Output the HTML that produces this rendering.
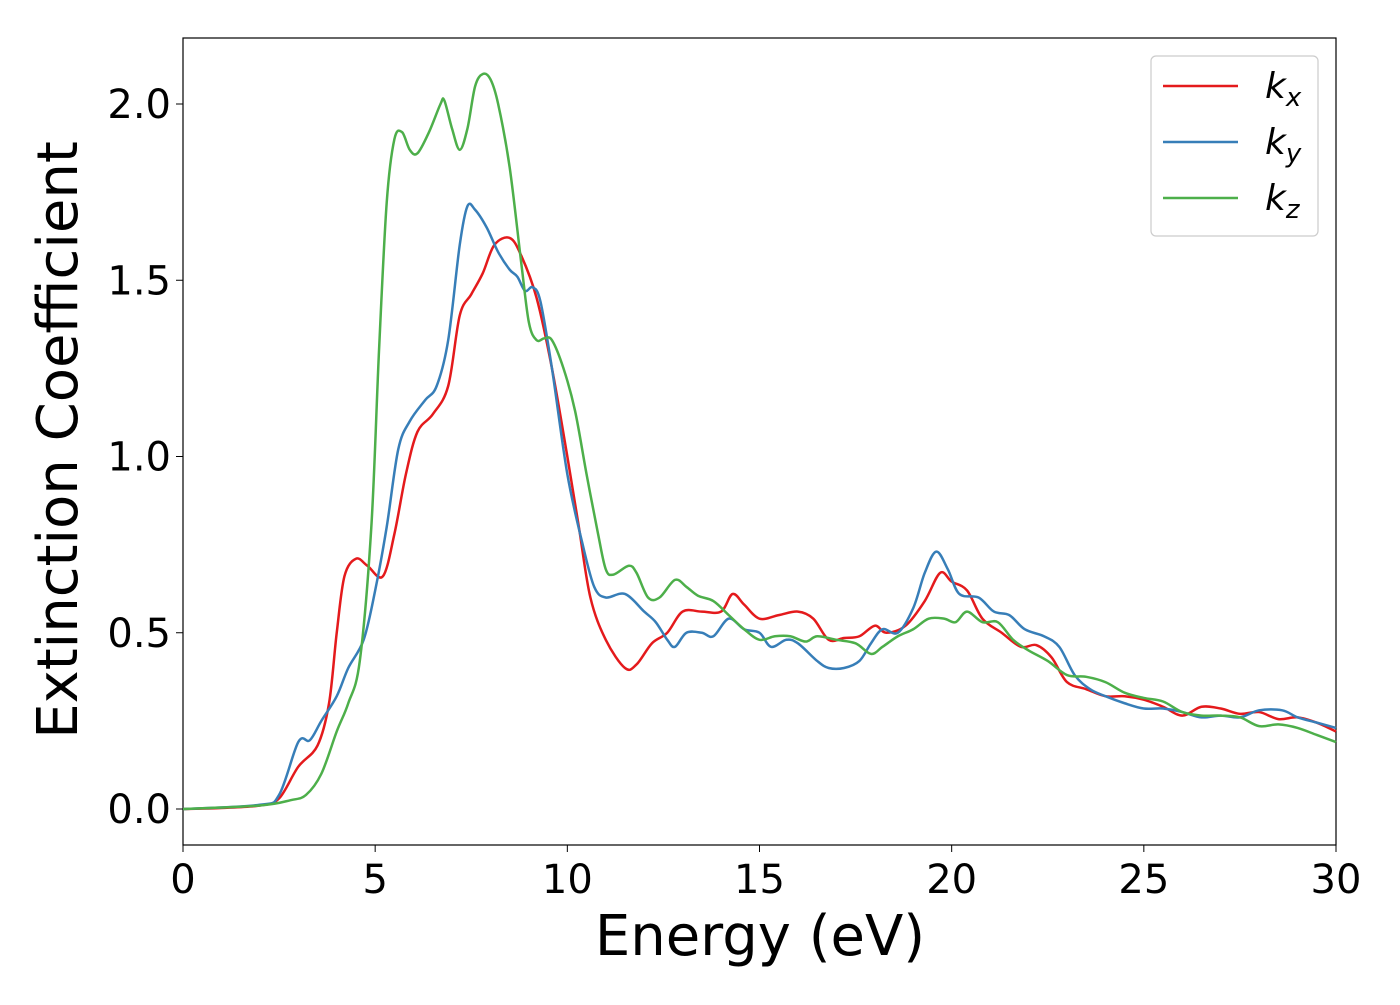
<!DOCTYPE html>
<html><head><meta charset="utf-8"><style>
body{margin:0;background:#fff}
svg text{font-family:"DejaVu Sans","Liberation Sans",sans-serif;fill:#000}
</style></head><body>
<svg id="chart" width="1400" height="1000" xmlns="http://www.w3.org/2000/svg">
<rect x="183" y="38" width="1153" height="807" fill="#fff" stroke="#000" stroke-width="1.2"/>
<g id="ticks"></g>
<g id="series"></g>
<text x="760" y="955" font-size="56" text-anchor="middle">Energy (eV)</text>
<text transform="translate(77,440) rotate(-90)" font-size="56" text-anchor="middle">Extinction Coefficient</text>
<g>
<rect x="1151" y="56" width="167" height="180" rx="5" fill="#fff" stroke="#ccc" stroke-width="1.2"/>
<line x1="1163" y1="86" x2="1238" y2="86" stroke="#e41a1c" stroke-width="2.5"/>
<line x1="1163" y1="142" x2="1238" y2="142" stroke="#377eb8" stroke-width="2.5"/>
<line x1="1163" y1="198" x2="1238" y2="198" stroke="#4daf4a" stroke-width="2.5"/>
<text x="1265" y="98" font-size="36" font-style="italic">k<tspan font-size="26" dy="8">x</tspan></text>
<text x="1265" y="154" font-size="36" font-style="italic">k<tspan font-size="26" dy="8">y</tspan></text>
<text x="1265" y="210" font-size="36" font-style="italic">k<tspan font-size="26" dy="8">z</tspan></text>
</g>
</svg>
<script>
const xTicks=[0,5,10,15,20,25,30];
const yTicks=[0.0,0.5,1.0,1.5,2.0];
const yTickLabels=["0.0","0.5","1.0","1.5","2.0"];
const kxE=[0,1,2,2.5,3,3.5,3.8,4,4.2,4.5,4.8,5.2,5.5,5.8,6.1,6.5,6.9,7.2,7.5,7.8,8.1,8.5,8.8,9.2,9.6,10,10.3,10.6,11,11.5,11.8,12.2,12.6,13,13.5,14,14.3,14.6,15,15.5,16,16.4,16.8,17.2,17.6,18,18.3,18.8,19.3,19.7,20,20.4,20.8,21.3,21.8,22.2,22.6,23,23.5,24,24.5,25,25.5,26,26.5,27,27.5,28,28.5,29,29.5,30];
const kxV=[0,0.003,0.01,0.03,0.12,0.18,0.3,0.5,0.66,0.71,0.69,0.66,0.78,0.95,1.07,1.12,1.2,1.4,1.46,1.52,1.6,1.62,1.57,1.45,1.25,1.0,0.8,0.6,0.48,0.4,0.41,0.47,0.5,0.56,0.56,0.56,0.61,0.58,0.54,0.55,0.56,0.54,0.48,0.485,0.49,0.52,0.5,0.52,0.59,0.67,0.645,0.62,0.54,0.5,0.46,0.465,0.43,0.36,0.34,0.32,0.32,0.31,0.29,0.265,0.29,0.285,0.27,0.275,0.255,0.26,0.245,0.22];
const kyE=[0,2,2.5,3,3.3,3.6,4,4.3,4.7,5,5.3,5.6,5.9,6.3,6.6,6.9,7.2,7.4,7.6,7.9,8.2,8.5,8.7,8.9,9.1,9.3,9.6,10,10.4,10.7,11,11.5,12,12.3,12.6,12.8,13.1,13.5,13.8,14.2,14.6,15,15.3,15.7,16,16.5,16.8,17.2,17.6,17.9,18.2,18.6,19,19.3,19.6,19.9,20.2,20.7,21.1,21.5,21.9,22.4,22.8,23.2,23.6,24,24.5,25,25.5,26,26.5,27,27.5,28,28.6,29,29.5,30];
const kyV=[0,0.012,0.04,0.19,0.195,0.25,0.32,0.4,0.48,0.62,0.8,1.02,1.1,1.16,1.2,1.33,1.6,1.71,1.7,1.65,1.58,1.53,1.51,1.47,1.48,1.44,1.25,0.95,0.75,0.63,0.6,0.61,0.56,0.53,0.48,0.46,0.5,0.5,0.49,0.54,0.51,0.5,0.46,0.48,0.47,0.42,0.4,0.4,0.42,0.47,0.51,0.5,0.57,0.67,0.73,0.68,0.61,0.6,0.56,0.55,0.51,0.49,0.46,0.38,0.34,0.32,0.3,0.285,0.285,0.275,0.26,0.265,0.26,0.28,0.28,0.26,0.245,0.23];
const kzE=[0,2,2.8,3.2,3.6,4,4.3,4.6,4.9,5.1,5.3,5.5,5.7,5.9,6.1,6.4,6.7,6.8,7.0,7.2,7.4,7.6,7.8,8.0,8.2,8.5,8.8,9.0,9.2,9.4,9.6,9.9,10.2,10.5,10.8,11,11.2,11.6,11.8,12.1,12.4,12.8,13.1,13.4,13.8,14.2,14.6,15,15.4,15.8,16.2,16.5,17,17.5,17.9,18.2,18.6,19,19.4,19.8,20.1,20.4,20.8,21.2,21.6,22,22.5,23,23.5,24,24.5,25,25.5,26,26.5,27,27.5,28,28.5,29,29.5,30];
const kzV=[0,0.01,0.025,0.04,0.1,0.22,0.3,0.42,0.8,1.3,1.72,1.9,1.92,1.87,1.86,1.92,2.0,2.01,1.93,1.87,1.93,2.05,2.085,2.07,2.0,1.82,1.55,1.38,1.33,1.335,1.33,1.25,1.13,0.95,0.78,0.68,0.665,0.69,0.67,0.6,0.6,0.65,0.63,0.605,0.59,0.55,0.51,0.48,0.49,0.49,0.475,0.49,0.48,0.47,0.44,0.46,0.49,0.51,0.54,0.54,0.53,0.56,0.53,0.53,0.48,0.45,0.42,0.38,0.375,0.36,0.33,0.315,0.305,0.275,0.265,0.265,0.26,0.235,0.24,0.23,0.21,0.19];
const NS="http://www.w3.org/2000/svg";
function xs(v){return 183+v*(1336-183)/30;}
function ys(v){return 809-v*(809-104)/2;}
const tg=document.getElementById('ticks');
xTicks.forEach(t=>{
  const l=document.createElementNS(NS,'line');
  
  
  l.setAttribute('x1',xs(t));l.setAttribute('x2',xs(t));l.setAttribute('y1',845);l.setAttribute('y2',852);l.setAttribute('stroke','#000');
  tg.appendChild(l);
  const tx=document.createElementNS(NS,'text');
  
  
  tx.setAttribute('x',xs(t));tx.setAttribute('y',893);tx.setAttribute('font-size','40');tx.setAttribute('text-anchor','middle');
  tx.textContent=t;tg.appendChild(tx);
});
yTicks.forEach((t,i)=>{
  const l=document.createElementNS(NS,'line');
  
  
  l.setAttribute('x1',176);l.setAttribute('x2',183);l.setAttribute('y1',ys(t));l.setAttribute('y2',ys(t));l.setAttribute('stroke','#000');
  tg.appendChild(l);
  const tx=document.createElementNS(NS,'text');
  
  
  tx.setAttribute('x',171);tx.setAttribute('y',ys(t)+14);tx.setAttribute('font-size','40');tx.setAttribute('text-anchor','end');
  tx.textContent=yTickLabels[i];tg.appendChild(tx);
});
function pathD(E,V){
  const p=E.map((e,i)=>[xs(e),ys(V[i])]);
  let d='M'+p[0][0]+','+p[0][1];
  for(let i=0;i<p.length-1;i++){
    const p0=p[Math.max(0,i-1)],p1=p[i],p2=p[i+1],p3=p[Math.min(p.length-1,i+2)];
    const c1x=p1[0]+(p2[0]-p0[0])/6,c1y=p1[1]+(p2[1]-p0[1])/6;
    const c2x=p2[0]-(p3[0]-p1[0])/6,c2y=p2[1]-(p3[1]-p1[1])/6;
    d+=` C${c1x.toFixed(2)},${c1y.toFixed(2)} ${c2x.toFixed(2)},${c2y.toFixed(2)} ${p2[0].toFixed(2)},${p2[1].toFixed(2)}`;
  }
  return d;
}
const sg=document.getElementById('series');
[[kxE,kxV,'#e41a1c','line-kx'],[kyE,kyV,'#377eb8','line-ky'],[kzE,kzV,'#4daf4a','line-kz']].forEach(s=>{
  const p=document.createElementNS(NS,'path');
  
  
  p.setAttribute('d',pathD(s[0],s[1]));p.setAttribute('fill','none');p.setAttribute('stroke',s[2]);p.setAttribute('stroke-width','2.5');
  sg.appendChild(p);
});
</script>
</body></html>
